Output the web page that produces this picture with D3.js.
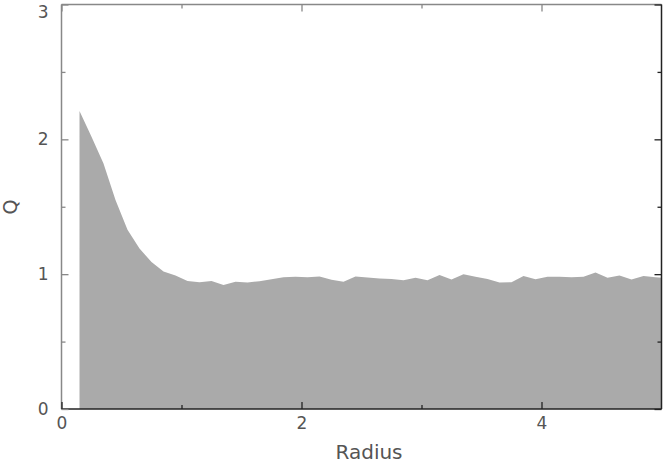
<!DOCTYPE html>
<html><head><meta charset="utf-8">
<script src="https://cdn.jsdelivr.net/npm/d3@7"></script>
<style>
html,body{margin:0;padding:0;background:#fff;}
svg{display:block;}
text{font-family:"DejaVu Sans","Liberation Sans",sans-serif;fill:#555;}
</style></head>
<body>
<svg id="c" width="664" height="464"></svg>
<script>
const radius = [0.15,0.25,0.35,0.45,0.55,0.65,0.75,0.85,0.95,1.05,1.15,1.25,1.35,1.45,1.55,1.65,1.75,1.85,1.95,2.05,2.15,2.25,2.35,2.45,2.55,2.65,2.75,2.85,2.95,3.05,3.15,3.25,3.35,3.45,3.55,3.65,3.75,3.85,3.95,4.05,4.15,4.25,4.35,4.45,4.55,4.65,4.75,4.85,4.95,5.05];
const qValues = [2.21,2.02,1.82,1.55,1.33,1.19,1.09,1.02,0.99,0.95,0.94,0.95,0.92,0.943,0.938,0.948,0.963,0.978,0.98,0.978,0.982,0.958,0.943,0.982,0.975,0.967,0.965,0.955,0.973,0.955,0.993,0.96,1.0,0.98,0.965,0.938,0.94,0.987,0.963,0.98,0.98,0.978,0.98,1.012,0.973,0.99,0.96,0.987,0.978,0.97];
const xMajorTicks = [0,2,4];
const xMinorTicks = [1,3];
const yMajorTicks = [0,1,2,3];
const yMinorTicks = [0.5,1.5,2.5];
const xTitle = "Radius";
const yTitle = "Q";

const svg = d3.select("#c");
const L = 61.5, R = 661.5, T = 4.5, B = 409;
const x = d3.scaleLinear().domain([0,5]).range([L,R]);
const y = d3.scaleLinear().domain([0,3]).range([B,T]);

svg.append("clipPath").attr("id","clip").append("rect")
  .attr("x",L).attr("y",T).attr("width",R-L).attr("height",B-T);

const data = radius.map((r,i)=>({r, q:qValues[i]}));
svg.append("path").datum(data)
  .attr("clip-path","url(#clip)")
  .attr("fill","#aaaaaa")
  .attr("d", d3.area().x(d=>x(d.r)).y0(y(0)).y1(d=>y(d.q)));

// frame
const gray="#888", dark="#222";
svg.append("line").attr("x1",L).attr("x2",R).attr("y1",T).attr("y2",T).attr("stroke",gray).attr("stroke-width",1.5);
svg.append("line").attr("x1",L).attr("x2",L).attr("y1",T).attr("y2",B).attr("stroke",gray).attr("stroke-width",1.5);
svg.append("line").attr("x1",L).attr("x2",R).attr("y1",B).attr("y2",B).attr("stroke",dark).attr("stroke-width",1.5);
svg.append("line").attr("x1",R).attr("x2",R).attr("y1",T).attr("y2",B).attr("stroke",dark).attr("stroke-width",1.5);

// axes with inward ticks
const maj=7, mn=4;
const bottom = svg.append("g").attr("transform",`translate(0,${B})`)
  .call(d3.axisBottom(x).tickValues(xMajorTicks).tickSize(-maj).tickPadding(maj+1).tickFormat(d3.format("d")));
const bottomMin = svg.append("g").attr("transform",`translate(0,${B})`)
  .call(d3.axisBottom(x).tickValues(xMinorTicks).tickSize(-mn).tickFormat(""));
const top1 = svg.append("g").attr("transform",`translate(0,${T})`)
  .call(d3.axisTop(x).tickValues(xMajorTicks).tickSize(-maj).tickFormat(""));
const top2 = svg.append("g").attr("transform",`translate(0,${T})`)
  .call(d3.axisTop(x).tickValues(xMinorTicks).tickSize(-mn).tickFormat(""));
const left = svg.append("g").attr("transform",`translate(${L},0)`)
  .call(d3.axisLeft(y).tickValues(yMajorTicks).tickSize(-maj).tickPadding(maj+6).tickFormat(d3.format("d")));
const leftMin = svg.append("g").attr("transform",`translate(${L},0)`)
  .call(d3.axisLeft(y).tickValues(yMinorTicks).tickSize(-mn).tickFormat(""));
const right1 = svg.append("g").attr("transform",`translate(${R},0)`)
  .call(d3.axisRight(y).tickValues(yMajorTicks).tickSize(-maj).tickFormat(""));
const right2 = svg.append("g").attr("transform",`translate(${R},0)`)
  .call(d3.axisRight(y).tickValues(yMinorTicks).tickSize(-mn).tickFormat(""));

svg.selectAll(".domain").remove();
[bottom,bottomMin,right1,right2].forEach(g=>g.selectAll(".tick line").attr("stroke",dark).attr("stroke-width",1.3));
[top1,top2,left,leftMin].forEach(g=>g.selectAll(".tick line").attr("stroke",gray).attr("stroke-width",1.3));
svg.selectAll(".tick text").attr("font-size",17).attr("fill","#666").attr("font-family","DejaVu Sans, sans-serif");
// keep the top label inside the picture
left.selectAll(".tick").filter(d=>d===3).select("text").attr("dy","0.75em");

svg.append("text").attr("x",369).attr("y",459).attr("text-anchor","middle")
  .attr("font-size",20).attr("fill","#666").text(xTitle);
svg.append("text").attr("transform","translate(17,207) rotate(-90)").attr("text-anchor","middle")
  .attr("font-size",19).attr("fill","#666").text(yTitle);
</script>
</body></html>
